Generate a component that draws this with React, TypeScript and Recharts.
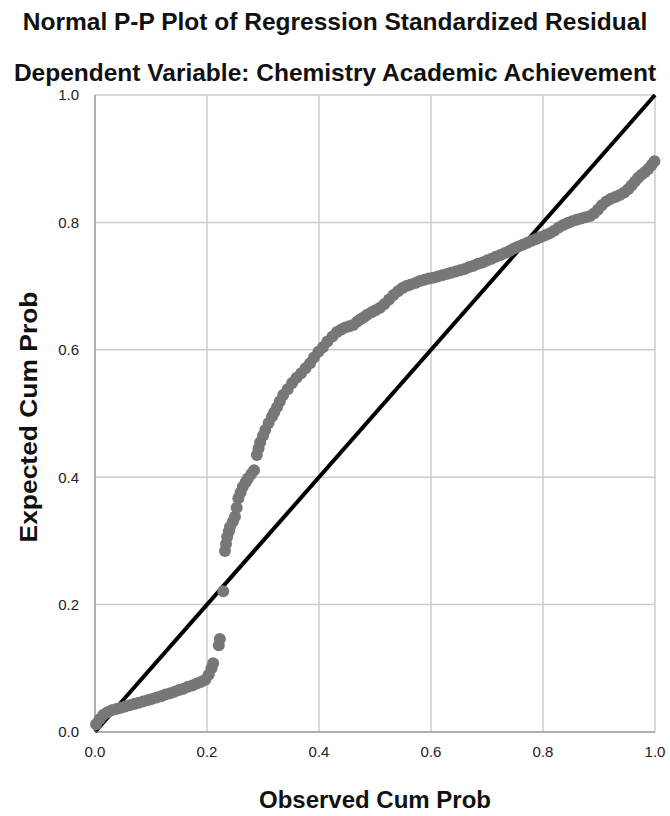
import { ScatterChart, Scatter, XAxis, YAxis, CartesianGrid, ReferenceLine } from "recharts";

// observed cum prob (x) / expected cum prob (y)
const observed = [
  0.002, 0.008, 0.015, 0.022, 0.03, 0.038, 0.046, 0.054, 0.062, 0.07, 0.078, 0.086, 0.094, 0.102,
  0.11, 0.118, 0.126, 0.134, 0.142, 0.15, 0.158, 0.166, 0.174, 0.182, 0.19, 0.197,
  0.203, 0.208, 0.211, 0.221, 0.223, 0.229, 0.232, 0.234, 0.236, 0.239, 0.241, 0.246, 0.25,
  0.253, 0.256, 0.26, 0.264, 0.269, 0.273, 0.279, 0.284, 0.289, 0.292, 0.295, 0.3, 0.304,
  0.31, 0.316, 0.32, 0.325, 0.33, 0.336, 0.344, 0.352, 0.36, 0.368, 0.376, 0.384, 0.391,
  0.399, 0.407, 0.415, 0.424, 0.432, 0.44, 0.447, 0.454, 0.461, 0.468, 0.474, 0.48, 0.486,
  0.494, 0.501, 0.509, 0.517, 0.525, 0.533, 0.541, 0.549, 0.556, 0.563, 0.572, 0.58, 0.588,
  0.596, 0.604, 0.612, 0.62, 0.628, 0.636, 0.644, 0.652, 0.66, 0.668, 0.676, 0.684, 0.692,
  0.7, 0.708, 0.716, 0.724, 0.732, 0.74, 0.748, 0.756, 0.764, 0.772, 0.78, 0.788, 0.796,
  0.804, 0.812, 0.82, 0.828, 0.836, 0.844, 0.852, 0.86, 0.868, 0.876, 0.884, 0.891, 0.898,
  0.905, 0.913, 0.921, 0.929, 0.937, 0.945, 0.952, 0.958, 0.964, 0.97, 0.976, 0.982, 0.988,
  0.994, 0.999,
];

const expected = [
  0.012, 0.02, 0.027, 0.031, 0.034, 0.036, 0.038, 0.04, 0.042, 0.044, 0.046, 0.048, 0.05, 0.052,
  0.054, 0.056, 0.059, 0.061, 0.063, 0.066, 0.068, 0.071, 0.073, 0.076, 0.079, 0.082,
  0.09, 0.1, 0.108, 0.136, 0.146, 0.221, 0.284, 0.295, 0.306, 0.315, 0.322, 0.33, 0.338,
  0.352, 0.367, 0.376, 0.385, 0.392, 0.398, 0.405, 0.411, 0.435, 0.445, 0.455, 0.465, 0.474,
  0.485, 0.495, 0.502, 0.51, 0.519, 0.529, 0.538, 0.548, 0.556, 0.563, 0.571, 0.579, 0.588,
  0.597, 0.604, 0.613, 0.621, 0.628, 0.632, 0.635, 0.637, 0.639, 0.644, 0.648, 0.651, 0.655,
  0.659, 0.662, 0.666, 0.672, 0.679, 0.686, 0.692, 0.697, 0.7, 0.702, 0.705, 0.708, 0.71,
  0.712, 0.713, 0.715, 0.717, 0.719, 0.721, 0.723, 0.725, 0.727, 0.73, 0.732, 0.735, 0.737,
  0.74, 0.743, 0.746, 0.749, 0.752, 0.755, 0.759, 0.762, 0.765, 0.768, 0.771, 0.774, 0.777,
  0.78, 0.783, 0.787, 0.792, 0.796, 0.799, 0.802, 0.804, 0.806, 0.808, 0.81, 0.814, 0.82,
  0.827, 0.833, 0.837, 0.84, 0.843, 0.847, 0.852, 0.858, 0.864, 0.87, 0.875, 0.879, 0.884,
  0.89, 0.896, 0.903,
];

const ticks = [0, 0.2, 0.4, 0.6, 0.8, 1];

const points = observed.map((x, i) => ({ x, y: expected[i] }));

const FONT = "'Liberation Sans', Arial, sans-serif";

const dot = (p: any) => <circle cx={p.cx} cy={p.cy} r={6} fill="#777777" />;

export default function App() {
  const titleStyle: React.CSSProperties = {
    position: "absolute",
    left: 0,
    width: 670,
    textAlign: "center",
    fontSize: 24.5,
    fontWeight: "bold",
    color: "#111",
    whiteSpace: "nowrap",
  };
  return (
    <div style={{ position: "absolute", left: 0, top: 0, width: 670, height: 816, background: "#fff", fontFamily: FONT }}>
      <div style={{ ...titleStyle, top: 8 }}>Normal P-P Plot of Regression Standardized Residual</div>
      <div style={{ ...titleStyle, top: 59 }}>Dependent Variable: Chemistry Academic Achievement</div>
      <div
        style={{
          position: "absolute",
          left: 29,
          top: 417,
          transform: "translate(-50%, -50%) rotate(-90deg) scaleX(1.1)",
          whiteSpace: "nowrap",
          fontSize: 24,
          fontWeight: "bold",
          color: "#111",
        }}
      >
        Expected Cum Prob
      </div>
      <div style={{ ...titleStyle, fontSize: 24, top: 786, left: 95, width: 560 }}>Observed Cum Prob</div>
      <div style={{ position: "absolute", left: 0, top: 0 }}>
        <ScatterChart width={670} height={816} margin={{ top: 95, right: 15, left: 0, bottom: 0 }}>
          <CartesianGrid stroke="#cccccc" strokeWidth={1.5} />
          <XAxis
            type="number"
            dataKey="x"
            domain={[0, 1]}
            ticks={ticks}
            tickFormatter={(v: number) => v.toFixed(1)}
            height={84}
            tickLine={false}
            tickMargin={8}
            stroke="#888"
            tick={{ fill: "#222", fontSize: 15, fontFamily: FONT }}
          />
          <YAxis
            type="number"
            dataKey="y"
            domain={[0, 1]}
            ticks={ticks}
            tickFormatter={(v: number) => v.toFixed(1)}
            width={95}
            tickLine={false}
            tickMargin={10}
            stroke="#888"
            tick={{ fill: "#222", fontSize: 15, fontFamily: FONT }}
          />
          <Scatter data={points} shape={dot} isAnimationActive={false} />
          <ReferenceLine
            segment={[
              { x: 0, y: 0 },
              { x: 1, y: 1 },
            ]}
            stroke="#000"
            strokeWidth={4}
          />
        </ScatterChart>
      </div>
    </div>
  );
}
